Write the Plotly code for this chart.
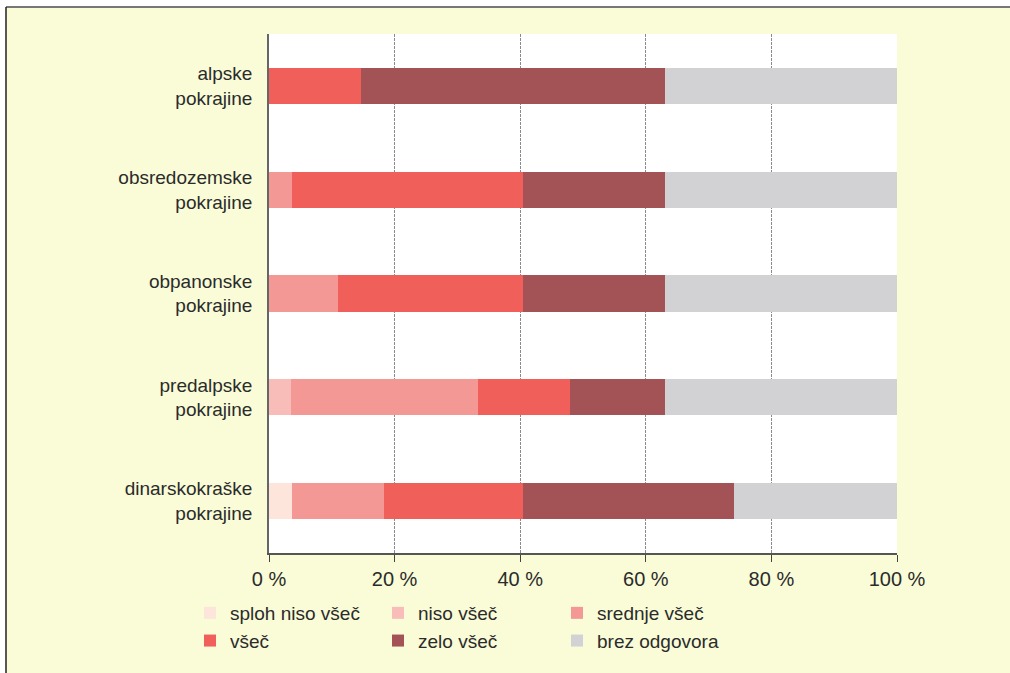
import plotly.graph_objects as go

categories = ["alpske<br>pokrajine", "obsredozemske<br>pokrajine", "obpanonske<br>pokrajine",
              "predalpske<br>pokrajine", "dinarskokraške<br>pokrajine"]
series_names = ["sploh niso všeč", "niso všeč", "srednje všeč", "všeč", "zelo všeč", "brez odgovora"]
sploh_niso_vsec = [0, 0, 0, 0, 3.7]
niso_vsec = [0, 0, 0, 3.5, 0]
srednje_vsec = [0, 3.7, 11.0, 29.7, 14.6]
vsec = [14.7, 36.8, 29.5, 14.8, 22.2]
zelo_vsec = [48.3, 22.5, 22.5, 15.0, 33.5]
brez_odgovora = [37.0, 37.0, 37.0, 37.0, 26.0]
tick_vals = [0, 20, 40, 60, 80, 100]
tick_text = ["0 %", "20 %", "40 %", "60 %", "80 %", "100 %"]

colors = ["#FDE5DC", "#F9BDB9", "#F49895", "#F05F5A", "#A35255", "#D2D2D4"]
values = [sploh_niso_vsec, niso_vsec, srednje_vsec, vsec, zelo_vsec, brez_odgovora]
legend_ids = ["legend", "legend2", "legend3", "legend", "legend2", "legend3"]

FONT = "Liberation Sans, Arial, sans-serif"
TXT = "#2B2B2B"

fig = go.Figure()
for i, (name, vals) in enumerate(zip(series_names, values)):
    fig.add_trace(go.Bar(
        y=categories, x=vals, name=name, orientation="h",
        marker=dict(color=colors[i], line=dict(width=0)),
        legend=legend_ids[i], legendgroup=name,
    ))

W, H = 1010, 673
L, R, T, B = 269, 113, 34, 120
pw, ph = W - L - R, H - T - B

def px(x):
    return (x - L) / pw

def py(y):
    return (H - B - y) / ph

legend_common = dict(orientation="v", yanchor="top", xanchor="left",
                     font=dict(family=FONT, size=19, color=TXT),
                     bgcolor="rgba(0,0,0,0)", tracegroupgap=5, traceorder="normal")

fig.update_layout(
    width=W, height=H,
    margin=dict(l=L, r=R, t=T, b=B),
    paper_bgcolor="#F9FCD7",
    plot_bgcolor="#FFFFFF",
    barmode="stack",
    bargap=0.65,
    font=dict(family=FONT, size=19, color=TXT),
    legend=dict(x=px(190), y=py(594), **legend_common),
    legend2=dict(x=px(378), y=py(594), **legend_common),
    legend3=dict(x=px(557), y=py(594), **legend_common),
    xaxis=dict(range=[0, 100], tickvals=tick_vals, ticktext=tick_text,
               showgrid=True, gridcolor="#8A8A8A", griddash="3px,1px", gridwidth=1,
               showline=True, linecolor="#555555", linewidth=1.5,
               ticks="outside", ticklen=7, tickcolor="#444444",
               zeroline=False, tickfont=dict(size=20, color=TXT)),
    yaxis=dict(autorange="reversed", showgrid=False, showline=True,
               linecolor="#666666", linewidth=1.5, ticks="", ticklabelstandoff=11,
               tickfont=dict(size=19, color=TXT)),
    shapes=[
        dict(type="rect", xref="paper", yref="paper", x0=px(-2), x1=px(1012), y0=py(-2), y1=py(7),
             fillcolor="#FFFFFF", line=dict(width=0), layer="above"),
        dict(type="rect", xref="paper", yref="paper", x0=px(-2), x1=px(6), y0=py(-2), y1=py(675),
             fillcolor="#FFFFFF", line=dict(width=0), layer="above"),
        dict(type="line", xref="paper", yref="paper", x0=px(6), x1=px(1012), y0=py(7), y1=py(7),
             line=dict(color="#777777", width=2)),
        dict(type="line", xref="paper", yref="paper", x0=px(6), x1=px(6), y0=py(7), y1=py(675),
             line=dict(color="#222222", width=1.5)),
    ],
)

fig.write_html(
    "out.html",
    config={"displayModeBar": False},
    post_script="document.body.style.margin='0px';document.documentElement.style.overflow='hidden';document.body.style.overflow='hidden';",
)
